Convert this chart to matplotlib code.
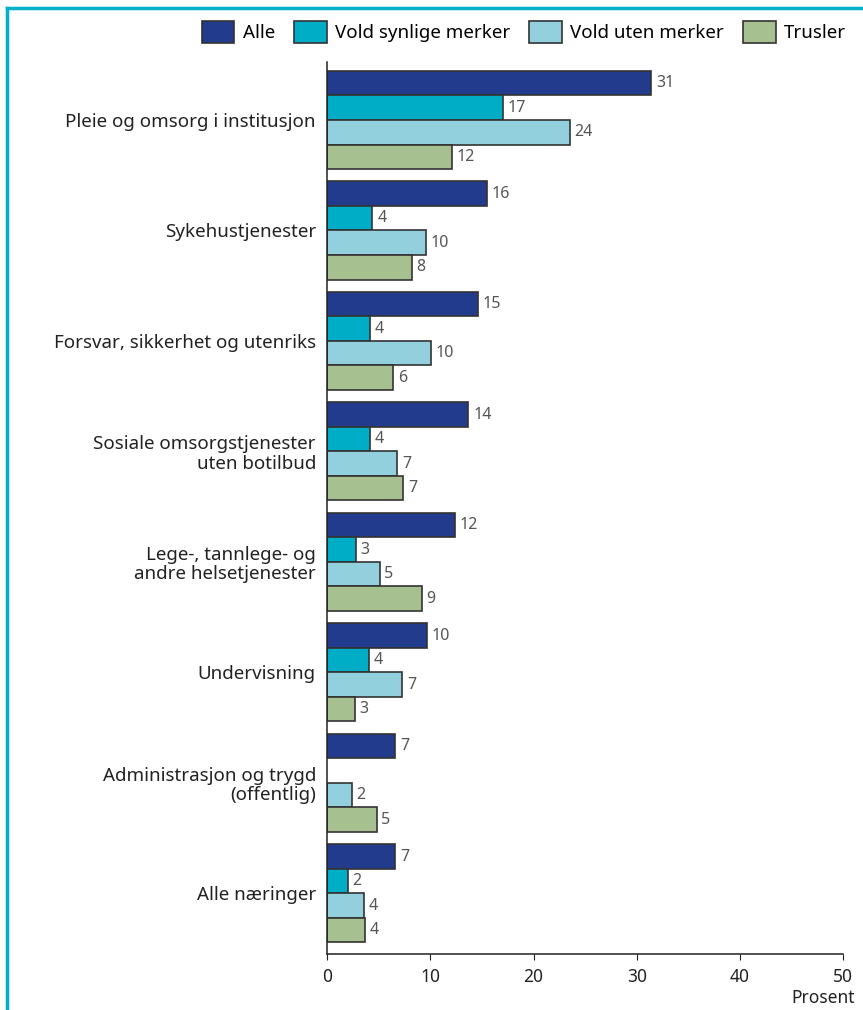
import matplotlib.pyplot as plt
from matplotlib.patches import Patch
from matplotlib.lines import Line2D
import numpy as np

plt.rcParams['font.family'] = ['Noto Sans', 'DejaVu Sans']

naeringer = ["Pleie og omsorg i institusjon", "Sykehustjenester",
             "Forsvar, sikkerhet og utenriks",
             "Sosiale omsorgstjenester\nuten botilbud",
             "Lege-, tannlege- og\nandre helsetjenester", "Undervisning",
             "Administrasjon og trygd\n(offentlig)", "Alle næringer"]
serier = ["Alle", "Vold synlige merker", "Vold uten merker", "Trusler"]
alle = [31.4, 15.5, 14.6, 13.7, 12.4, 9.7, 6.6, 6.6]
vold_synlige = [17.0, 4.4, 4.2, 4.2, 2.8, 4.1, None, 2.0]
vold_uten = [23.5, 9.6, 10.1, 6.8, 5.1, 7.3, 2.4, 3.6]
trusler = [12.1, 8.2, 6.4, 7.4, 9.2, 2.7, 4.8, 3.7]
farger = ["#233b8c", "#00adc6", "#92d0de", "#a6c08f"]

fig = plt.figure(figsize=(8.63, 10.1), dpi=100)
ax = fig.add_axes([0.379, 0.0554, 0.598, 0.8832])

y = np.arange(len(naeringer))
h = 0.222
for i, (verdier, farge) in enumerate(zip([alle, vold_synlige, vold_uten, trusler], farger)):
    for j, v in enumerate(verdier):
        if v is None:
            continue
        yy = y[j] + (i - 1.5) * h
        ax.barh(yy, v, height=h, color=farge, edgecolor="#333333", linewidth=1.2)
        ax.text(v + 0.45, yy, f"{v:.0f}", va="center", ha="left",
                fontsize=11.5, color="#555555")

ax.set_ylim(7.55, -0.525)
ax.set_xlim(0, 50)
ax.set_xticks(range(0, 51, 10))
ax.tick_params(axis="x", labelsize=12.5, length=4, color="#222222", labelcolor="#222222", pad=6)
ax.set_yticks(y)
ax.set_yticklabels(naeringer, fontsize=13.5, color="#222222", linespacing=1.1)
ax.tick_params(axis="y", length=0, pad=8)
for s in ["top", "right"]:
    ax.spines[s].set_visible(False)
for s in ["left", "bottom"]:
    ax.spines[s].set_color("#222222")
    ax.spines[s].set_linewidth(1.1)

fig.text(0.991, 0.0025, "Prosent", ha="right", va="bottom", fontsize=12.5, color="#222222")

handles = [Patch(facecolor=f, edgecolor="#333333", linewidth=1.2) for f in farger]
fig.legend(handles, serier, loc="upper right", bbox_to_anchor=(1.0, 0.996), ncol=4,
           frameon=False, fontsize=13.5, handlelength=1.75, handleheight=1.4,
           columnspacing=1.0, handletextpad=0.45)

# ramme i cyan oppe og til venstre
fig.add_artist(Line2D([0.0085, 0.0085], [0, 0.992], transform=fig.transFigure,
                      color="#00b1c9", linewidth=2.5))
fig.add_artist(Line2D([0.0085, 1.0], [0.992, 0.992], transform=fig.transFigure,
                      color="#00b1c9", linewidth=2.5))

fig.savefig("out.png", dpi=100)
